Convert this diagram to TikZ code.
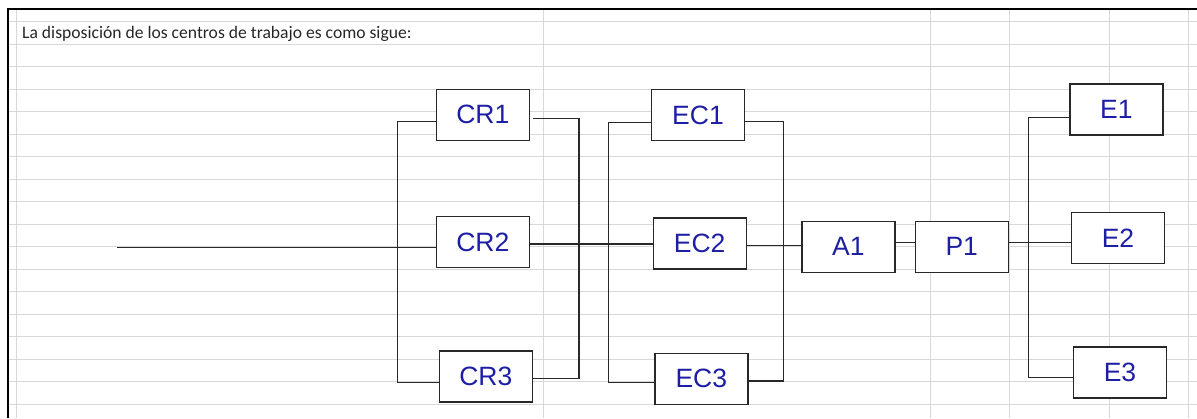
\documentclass[tikz,border=0pt]{standalone}
\usepackage{fontspec}
\setmainfont{Liberation Sans}
\newfontfamily\calfont{Carlito}
\definecolor{boxtext}{RGB}{30,30,165}
\definecolor{gridc}{RGB}{216,216,216}
\definecolor{linec}{RGB}{40,40,40}
\tikzset{
  boxnode/.style={draw=linec, line width=1.4pt, fill=white, minimum width=93pt, minimum height=51pt,
    inner sep=0pt, text=boxtext, font=\fontsize{26.5}{30}\selectfont},
  wire/.style={draw=linec, line width=1.2pt},
  gridline/.style={draw=gridc, line width=0.9pt},
  frameline/.style={draw=black, line width=2pt}
}
\begin{document}
\begin{tikzpicture}[x=1pt,y=-1pt]
\useasboundingbox (0,0) rectangle (1197,418);
% spreadsheet grid
\foreach \k in {0,...,17}{
  \draw[gridline] (8,21.5+22.5*\k) -- (1197,21.5+22.5*\k);
}
\foreach \xx in {16,543,930,1009,1109,1188}{
  \draw[gridline] (\xx,9) -- (\xx,418);
}
\draw[frameline] (8,418) -- (8,9) -- (1197,9);
% header text
\node[anchor=base west, inner sep=0pt, font=\calfont\fontsize{17.6}{20}\selectfont, text=black!85] (title) at (22,38) {La disposición de los centros de trabajo es como sigue:};
% boxes
\node[boxnode] (CR1) at (482.8,114.7) {CR1};
\node[boxnode] (CR2) at (482.8,242) {CR2};
\node[boxnode] (CR3) at (485.8,376.3) {CR3};
\node[boxnode] (EC1) at (698,115.2) {EC1};
\node[boxnode] (EC2) at (699.7,243.3) {EC2};
\node[boxnode] (EC3) at (701.3,378.7) {EC3};
\node[boxnode] (A1) at (848.3,246.7) {A1};
\node[boxnode] (P1) at (961.7,246.7) {P1};
\node[boxnode] (E1) at (1116.3,109.5) {E1};
\node[boxnode] (E2) at (1118,238.2) {E2};
\node[boxnode] (E3) at (1120,372.5) {E3};
% bus coordinates
\coordinate (in) at (116.7,247.7);
\coordinate (crLT) at (397.3,121.7);
\coordinate (crLB) at (397.3,382.7);
\coordinate (crRT) at (579,118.3);
\coordinate (crRB) at (579,378.3);
\coordinate (m1) at (579,244);
\coordinate (ecLT) at (608.7,122.7);
\coordinate (ecLB) at (608.7,382.3);
\coordinate (ecRT) at (783.3,121.2);
\coordinate (ecRB) at (783.3,381);
\coordinate (m2) at (783.3,245.5);
\coordinate (m3) at (1028.3,242.3);
\coordinate (eT) at (1028.3,117.3);
\coordinate (eB) at (1028.3,377.5);
% connectors
\draw[wire] (in) -- (in -| CR2.west);
\draw[wire] (CR1.west |- crLT) -- (crLT) -- (crLB) -- (CR3.west |- crLB);
\draw[wire] ([xshift=3pt]CR1.east |- crRT) -- (crRT) -- (crRB) -- (CR3.east |- crRB);
\draw[wire] (CR2.east |- m1) -- (m1 -| EC2.west);
\draw[wire] (EC1.west |- ecLT) -- (ecLT) -- (ecLB) -- (EC3.west |- ecLB);
\draw[wire] (EC1.east |- ecRT) -- (ecRT) -- (ecRB) -- (EC3.east |- ecRB);
\draw[wire] (EC2.east |- m2) -- (m2 -| A1.west);
\draw[wire] (A1.east |- m3) -- (m3 -| P1.west);
\draw[wire] (P1.east |- m3) -- (m3 -| E2.west);
\draw[wire] (E1.west |- eT) -- (eT) -- (eB) -- (E3.west |- eB);
\end{tikzpicture}
\end{document}
